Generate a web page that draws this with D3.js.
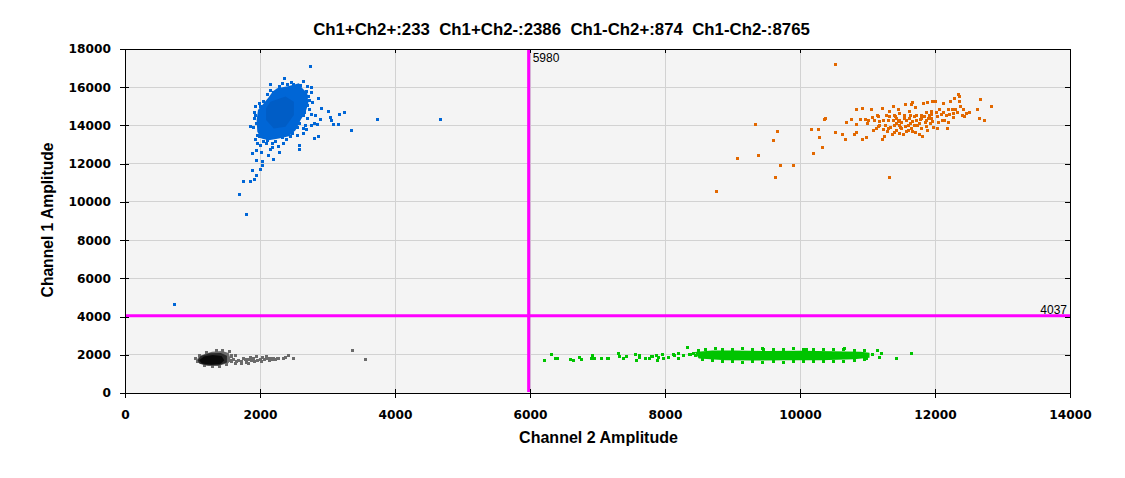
<!DOCTYPE html>
<html>
<head>
<meta charset="utf-8">
<script src="https://cdn.jsdelivr.net/npm/d3@7/dist/d3.min.js"></script>
<style>
  html, body { margin: 0; padding: 0; background: #ffffff; }
  svg { display: block; }
</style>
</head>
<body>
<svg id="chart" width="1125" height="478"></svg>
<script>
// ---------------- DATA ----------------
const xTicks = [0, 2000, 4000, 6000, 8000, 10000, 12000, 14000];
const yTicks = [0, 2000, 4000, 6000, 8000, 10000, 12000, 14000, 16000, 18000];
const xDomain = [0, 14000];
const yDomain = [0, 18000];
const thresholdCh2 = 5980;   // vertical line (Channel 2)
const thresholdCh1 = 4037;   // horizontal line (Channel 1)
const quadrantLabels = ["Ch1+Ch2+", "Ch1+Ch2-", "Ch1-Ch2+", "Ch1-Ch2-"];
const quadrantCounts = [233, 2386, 874, 8765];
const xTitle = "Channel 2 Amplitude";
const yTitle = "Channel 1 Amplitude";

// Ch1+Ch2- (blue): dense core outline, darker centre, and individual droplets
const blueCore = [[2254,15947],[2428,16070],[2577,16210],[2627,15947],[2701,15684],[2716,15158],[2677,14720],[2602,14281],[2527,13755],[2428,13439],[2279,13316],[2129,13229],[2020,13316],[1960,13667],[1950,14281],[1970,14807],[2055,15158],[2129,15474],[2189,15772]];
const blueDense = [[2154,15246],[2378,15509],[2502,15246],[2502,14544],[2378,13930],[2204,13842],[2090,14281],[2090,14895]];
const bluePts = [[2746,17105],[2358,16474],[2149,16158],[2761,16000],[2866,15421],[2910,14895],[3015,14737],[3179,14579],[3254,14684],[3045,14421],[3060,14263],[3090,14053],[3164,14053],[3358,13737],[2896,14316],[2821,14544],[2761,14579],[2806,14105],[2851,14053],[2761,14000],[2672,14000],[2687,13790],[2642,13842],[2866,13421],[2806,13316],[2582,12947],[2582,12737],[3746,14316],[4672,14316],[1866,13948],[1940,15000],[1940,13264],[1970,13053],[2000,12947],[1955,12685],[1896,12527],[2015,12579],[2119,12421],[2194,12211],[2284,12579],[2343,13053],[2269,12895],[2179,12842],[2149,12737],[1955,12158],[2030,12105],[2030,11895],[2000,11685],[1896,11632],[1955,11369],[1925,11159],[1866,11053],[1761,11053],[1701,10369],[1806,9317],[2478,13579],[2388,13264],[2229,13158],[2104,13229],[730,4640],[1925,14700],[1935,14500],[1960,13500],[2720,15500],[2740,15300],[2700,15050],[2650,14500],[2560,13900],[2600,16100],[2500,16150],[2400,16120],[2290,16020],[2200,15700],[2050,15250],[2000,15000],[2690,15800],[2660,14700],[2590,14100],[2450,13400],[2050,13150],[1990,13400],[1945,14100],[2760,15700],[2780,15200],[2740,14850],[2700,14350],[2640,13600],[2560,13500],[2330,13350],[2180,13080],[2090,13050],[1910,13900],[1920,14350],[1990,15150],[2110,15600],[2160,15850],[2330,16200],[2460,16250],[2640,16300],[2700,16050]];

// Ch1+Ch2+ (orange) droplets
const orangePts = [[10533,17210],[9348,14053],[9067,12264],[8756,10527],[9378,12422],[9600,13211],[9674,13685],[9704,11895],[9644,11264],[9911,11895],[10207,12527],[10326,12843],[10163,13790],[10281,13790],[10296,13369],[10370,14316],[10385,14369],[10533,13632],[10637,13527],[10667,13264],[10696,14158],[10756,14316],[10800,13527],[10830,14053],[10844,14842],[10889,14316],[10919,14895],[10933,13264],[10963,14316],[10978,13369],[11007,14106],[11022,14264],[11052,14842],[11067,14421],[11096,13737],[11141,14527],[11156,14474],[11170,13948],[11185,14211],[11215,14895],[11215,13264],[11230,13790],[11244,14264],[11259,13422],[11274,14000],[11289,13685],[11304,14264],[11333,14737],[11333,14474],[11348,13895],[11363,13527],[11378,15000],[11378,14264],[11393,13632],[11407,14000],[11422,14474],[11437,14106],[11452,14842],[11467,14632],[11481,14264],[11496,13895],[11511,14158],[11526,13527],[11541,14369],[11556,15105],[11570,13948],[11600,13737],[11615,14737],[11630,14527],[11644,14106],[11659,15105],[11674,15211],[11689,14474],[11704,14948],[11718,13632],[11733,14264],[11748,14000],[11763,13527],[11778,14316],[11793,13842],[11807,14527],[11822,13422],[11837,15158],[11852,14158],[11867,14684],[11881,13948],[11896,15211],[11911,14369],[11926,14106],[11941,14737],[11955,14579],[11970,15263],[11985,13895],[12000,15263],[12015,14684],[12030,13842],[12044,14474],[12059,14158],[12074,14842],[12089,14579],[12104,14264],[12119,14684],[12133,15158],[12148,14264],[12163,14527],[12178,13842],[12193,14842],[12207,14158],[12222,14579],[12237,15263],[12252,14842],[12267,14632],[12281,14421],[12296,15421],[12311,14842],[12326,14684],[12341,15632],[12356,15526],[12370,15263],[12385,15000],[12400,14527],[12415,14842],[12444,14474],[12474,14632],[12518,14684],[12637,14842],[12667,15368],[12652,14369],[12726,14264],[12844,15000],[11333,11264],[10844,13632],[11402,14544],[11427,14369],[11452,14193],[11476,14018],[11501,13843],[11551,14544],[11575,14281],[11600,14018],[11625,14369],[11649,13843],[11674,14193],[11699,14018],[11723,14544],[11773,14106],[11797,14369],[11847,14456],[11872,14281],[11896,13755],[11921,14544],[11946,14369],[11970,14193],[11180,14018],[11131,13843],[11106,14281],[11279,14544],[11304,13843],[11427,13755],[11476,13579],[11575,13667],[11674,13667]];

// Ch1-Ch2+ (green): dense band outline and individual droplets
const greenBand = [[8440,2150],[8700,2230],[9000,2220],[9500,2200],[10000,2210],[10500,2190],[10900,2160],[11030,2100],[11030,1850],[10800,1760],[10300,1720],[9800,1720],[9300,1700],[8900,1720],[8500,1800]];
const greenPts = [[6222,1721],[6325,2035],[6380,1826],[6414,1826],[6597,1773],[6651,1721],[6726,1878],[6770,1773],[6908,1826],[6933,1983],[6953,1826],[7052,1826],[7146,1826],[7166,1826],[7318,2087],[7333,1930],[7392,1826],[7437,1930],[7570,2035],[7585,1721],[7615,1878],[7629,1983],[7704,1826],[7763,1826],[7793,1930],[7822,1930],[7881,1983],[7896,1721],[7911,1878],[7970,2035],[7985,1826],[8059,1878],[8133,2035],[8148,1983],[8207,1826],[8193,2087],[8267,1983],[8326,2401],[8356,2035],[8385,2035],[10983,1826],[11067,2035],[11141,2244],[11181,1878],[11210,2087],[11423,1826],[11645,2087],[10094,2296],[10652,2349],[9466,2296],[8500,2250],[8600,2300],[8750,2330],[8850,2280],[9000,2300],[9150,2330],[9300,2280],[9450,2320],[9600,2300],[9750,2280],[9900,2310],[10050,2290],[10200,2300],[10350,2270],[10500,2300],[10650,2260],[10800,2240],[10950,2200],[8550,1730],[8700,1680],[8850,1650],[9000,1630],[9150,1620],[9300,1640],[9450,1610],[9600,1650],[9750,1620],[9900,1640],[10050,1660],[10200,1630],[10350,1650],[10500,1670],[10650,1660],[10800,1700],[10950,1750],[8450,1950],[8420,2050]];

// Ch1-Ch2- (grey/black): dense core outlines and tail droplets
const greyCore = [[1066,1738],[1091,1913],[1190,2052],[1289,2157],[1437,2192],[1536,2087],[1560,1826],[1536,1564],[1387,1424],[1239,1424],[1116,1512]];
const greyMid = [[1075,1720],[1120,1940],[1250,2080],[1420,2090],[1510,1950],[1510,1590],[1380,1440],[1215,1440],[1100,1540]];
const greyDark = [[1100,1710],[1170,1910],[1300,1990],[1430,1930],[1470,1720],[1420,1530],[1280,1480],[1140,1540]];
const greyPts = [[1610,1773],[1644,1983],[1684,1704],[1733,1651],[1758,1826],[1807,1616],[1832,1773],[1872,1704],[1906,1808],[1941,1913],[1970,1686],[2005,1773],[2040,1878],[2069,1738],[2104,1808],[2138,1704],[2178,1773],[2203,1808],[2252,1808],[2277,1826],[2351,1826],[2385,1860],[2425,1948],[2499,1826],[1733,1564],[1783,1738],[1659,1651],[1585,1651],[1575,1913],[1634,1564],[1857,1878],[1921,1651],[2020,1651],[2089,1913],[2153,1826],[2227,1773],[1832,1564],[3363,2244],[3556,1773],[1050,1800],[1080,1650],[1100,1950],[1200,2100],[1350,2230],[1450,2240],[1550,2150],[1580,1950],[1570,1700],[1500,1500],[1400,1400],[1300,1380],[1180,1450]];

// ---------------- CHART ----------------
const svg = d3.select("#chart");
const x = d3.scaleLinear().domain(xDomain).range([125, 1070]);
const y = d3.scaleLinear().domain(yDomain).range([393, 49]);
const X0 = x(xDomain[0]), X1 = x(xDomain[1]), Y0 = y(yDomain[0]), Y1 = y(yDomain[1]);

// plot background
svg.append("rect").attr("x", X0).attr("y", Y1).attr("width", X1 - X0).attr("height", Y0 - Y1).attr("fill", "#f4f4f4");

// grid
const grid = svg.append("g").attr("stroke", "#d2d2d2").attr("stroke-width", 1).attr("shape-rendering", "crispEdges");
grid.selectAll("line.gx").data(xTicks.slice(1, -1)).join("line")
  .attr("x1", d => x(d)).attr("x2", d => x(d)).attr("y1", Y1).attr("y2", Y0);
grid.selectAll("line.gy").data(yTicks.slice(1, -1)).join("line")
  .attr("y1", d => y(d)).attr("y2", d => y(d)).attr("x1", X0).attr("x2", X1);

const plot = svg.append("g");
const poly = d3.line().x(d => x(d[0])).y(d => y(d[1])).curve(d3.curveLinearClosed);
const S = 3;
function dots(data, color) {
  plot.append("g").attr("fill", color).attr("shape-rendering", "crispEdges")
    .selectAll("rect").data(data).join("rect")
    .attr("x", d => Math.round(x(d[0]) - S / 2)).attr("y", d => Math.round(y(d[1]) - S / 2))
    .attr("width", S).attr("height", S);
}
function area(data, color) {
  plot.append("path").attr("d", poly(data)).attr("fill", color);
}

// grey / black cluster
area(greyCore, "#6b6b6b");
dots(greyPts, "#6b6b6b");
area(greyMid, "#2a2a2a");
area(greyDark, "#0a0a0a");

// blue cluster
area(blueCore, "#0066d6");
dots(bluePts, "#0066d6");
area(blueDense, "#005dc6");

// green cluster
area(greenBand, "#00c400");
dots(greenPts, "#00c400");

// orange cluster
dots(orangePts, "#e26800");

// thresholds
svg.append("line").attr("x1", x(thresholdCh2)).attr("x2", x(thresholdCh2)).attr("y1", Y1).attr("y2", Y0 - 1)
  .attr("stroke", "#ff00ff").attr("stroke-width", 3);
svg.append("line").attr("x1", X0 + 1).attr("x2", X1).attr("y1", y(thresholdCh1)).attr("y2", y(thresholdCh1))
  .attr("stroke", "#ff00ff").attr("stroke-width", 3);
svg.append("text").attr("x", x(thresholdCh2) + 4).attr("y", Y1 + 13)
  .attr("font-family", "Liberation Sans, Arial, sans-serif").attr("font-size", 12).attr("fill", "#000")
  .text(thresholdCh2);
svg.append("text").attr("x", X1 - 3).attr("y", y(thresholdCh1) - 2).attr("text-anchor", "end")
  .attr("font-family", "Liberation Sans, Arial, sans-serif").attr("font-size", 12).attr("fill", "#000")
  .text(thresholdCh1);

// frame
const frame = svg.append("g").attr("stroke", "#000").attr("stroke-width", 1).attr("shape-rendering", "crispEdges");
frame.append("line").attr("x1", X0).attr("x2", X1).attr("y1", Y0).attr("y2", Y0);
frame.append("line").attr("x1", X0).attr("x2", X1).attr("y1", Y1).attr("y2", Y1);
frame.append("line").attr("x1", X0).attr("x2", X0).attr("y1", Y1).attr("y2", Y0);
frame.append("line").attr("x1", X1).attr("x2", X1).attr("y1", Y1).attr("y2", Y0);

const tickFont = "DejaVu Sans, Verdana, sans-serif";
// bottom axis
const xAxis = d3.axisBottom(x).tickValues(xTicks).tickSize(5).tickFormat(d3.format("d"));
const gx = svg.append("g").attr("transform", `translate(0,${Y0})`).call(xAxis);
gx.select(".domain").remove();
gx.selectAll(".tick line").attr("y1", -4).attr("y2", 5).attr("shape-rendering", "crispEdges");
gx.selectAll(".tick text").attr("y", 17).attr("dy", "0.71em").attr("font-family", tickFont).attr("font-weight", "bold").attr("font-size", 12.2).attr("fill", "#000");
// left axis
const yAxis = d3.axisLeft(y).tickValues(yTicks).tickSize(5).tickFormat(d3.format("d"));
const gy = svg.append("g").attr("transform", `translate(${X0},0)`).call(yAxis);
gy.select(".domain").remove();
gy.selectAll(".tick line").attr("x1", -5).attr("x2", 4).attr("shape-rendering", "crispEdges");
gy.selectAll(".tick text").attr("x", -14).attr("font-family", tickFont).attr("font-weight", "bold").attr("font-size", 12.2).attr("fill", "#000");
// top and right inner ticks
const gt = svg.append("g").attr("transform", `translate(0,${Y1})`).call(d3.axisTop(x).tickValues(xTicks.slice(1, -1)).tickSize(-4).tickFormat(""));
gt.select(".domain").remove();
gt.selectAll(".tick line").attr("shape-rendering", "crispEdges");
const gr = svg.append("g").attr("transform", `translate(${X1},0)`).call(d3.axisRight(y).tickValues(yTicks.slice(1, -1)).tickSize(-5).tickFormat(""));
gr.select(".domain").remove();
gr.selectAll(".tick line").attr("shape-rendering", "crispEdges");

// titles
function fit(sel, target) {
  const w = sel.node().getComputedTextLength();
  const fs = parseFloat(sel.attr("font-size"));
  sel.attr("font-size", (fs * target / w).toFixed(2));
}
const titleText = quadrantLabels.map((l, i) => l + ":" + quadrantCounts[i]).join("  ");
const t = svg.append("text").attr("x", 561.5).attr("y", 35).attr("text-anchor", "middle")
  .attr("font-family", "Liberation Sans, Arial, sans-serif").attr("font-weight", "bold").attr("font-size", 15)
  .attr("xml:space", "preserve").style("white-space", "pre").attr("fill", "#000").text(titleText);
fit(t, 497);
const xt = svg.append("text").attr("x", 598.5).attr("y", 443).attr("text-anchor", "middle")
  .attr("font-family", "Liberation Sans, Arial, sans-serif").attr("font-weight", "bold").attr("font-size", 15)
  .attr("fill", "#000").text(xTitle);
fit(xt, 159);
const yt = svg.append("text").attr("transform", "translate(53,220) rotate(-90)").attr("text-anchor", "middle")
  .attr("font-family", "Liberation Sans, Arial, sans-serif").attr("font-weight", "bold").attr("font-size", 15)
  .attr("fill", "#000").text(yTitle);
fit(yt, 155);
</script>
</body>
</html>
